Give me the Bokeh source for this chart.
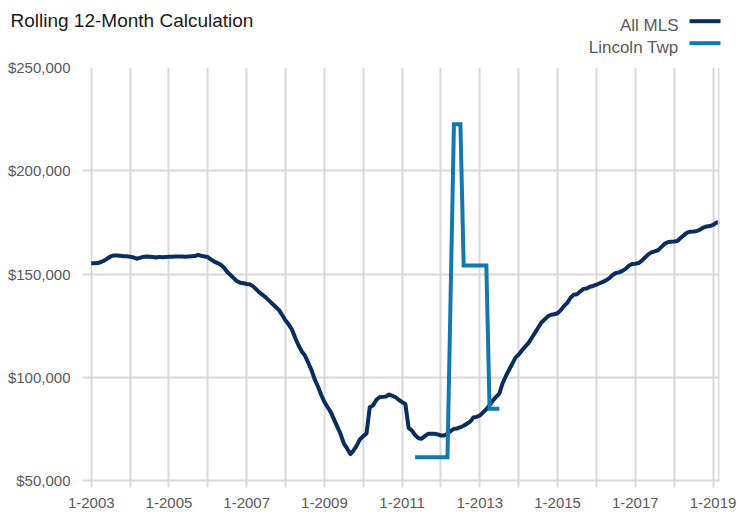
import pandas as pd
from bokeh.plotting import figure
from bokeh.core.properties import value
from bokeh.models import Range1d, FixedTicker, NumeralTickFormatter, Span
from bokeh.embed import file_html
from bokeh.resources import INLINE

# ---------------- data ----------------
all_mls_start = "2003-01"
all_mls = [
    # 2003
    155200, 155200, 155300, 155800, 156500, 157500, 158500, 159000, 159000, 158800, 158600, 158600,
    # 2004
    158400, 158000, 157400, 157800, 158300, 158500, 158400, 158200, 158000, 158300, 158100, 158200,
    # 2005
    158300, 158400, 158500, 158500, 158500, 158400, 158500, 158600, 158700, 159300, 158800, 158500,
    # 2006
    158200, 157000, 156000, 155300, 154500, 153000, 151000, 149500, 148000, 146500, 145800, 145500,
    # 2007
    145200, 145000, 144000, 142500, 141000, 139800, 138500, 137000, 135500, 134000, 132500, 130000,
    # 2008
    127500, 125500, 123000, 119000, 115500, 112500, 110500, 107000, 103500, 99000, 95500, 91500,
    # 2009
    88000, 85500, 83000, 79500, 76000, 72500, 68000, 65500, 62800, 64500, 67000, 70000,
    # 2010
    71500, 72800, 85500, 86300, 89000, 90300, 90500, 90700, 91600, 91000, 90300, 89000,
    # 2011
    87900, 87000, 75500, 74200, 72000, 70500, 70200, 71500, 72600, 72600, 72600, 72300,
    # 2012
    71800, 71800, 72600, 74000, 75000, 75200, 75800, 76500, 77500, 78500, 80500, 80800,
    # 2013
    81500, 83000, 84500, 86500, 88700, 90500, 92000, 97000, 100500, 103500, 106500, 109500,
    # 2014
    111000, 113000, 114800, 116500, 119000, 121500, 124000, 126500, 128000, 129500, 130300, 130500,
    # 2015
    131000, 132500, 134500, 136000, 138500, 140000, 140200, 141500, 142800, 143000, 143800, 144200,
    # 2016
    144800, 145500, 146200, 147000, 148000, 149500, 150500, 150800, 151500, 152500, 154000, 154800,
    # 2017
    155000, 155300, 156500, 158000, 159500, 160500, 161000, 161500, 163000, 164500, 165400, 165600,
    # 2018
    165700, 166000, 167500, 168800, 170000, 170500, 170600, 170800, 171500, 172500, 173000, 173200,
    # 2019
    173800, 174800, 175200,
]

lincoln_months = [
    "2011-05", "2011-06", "2011-07", "2011-08", "2011-09", "2011-10", "2011-11", "2011-12",
    "2012-01", "2012-02", "2012-03",
    "2012-05", "2012-06", "2012-07",
    "2012-08", "2012-09", "2012-10", "2012-11", "2012-12", "2013-01", "2013-02", "2013-03",
    "2013-04", "2013-05", "2013-06", "2013-07",
]
lincoln = [
    61300, 61300, 61300, 61300, 61300, 61300, 61300, 61300,
    61300, 61300, 61300,
    222500, 222500, 222500,
    154100, 154100, 154100, 154100, 154100, 154100, 154100, 154100,
    84700, 84700, 84700, 84700,
]

x_tick_months = ["2003-01", "2004-01", "2005-01", "2006-01", "2007-01", "2008-01", "2009-01",
                 "2010-01", "2011-01", "2012-01", "2013-01", "2014-01", "2015-01", "2016-01",
                 "2017-01", "2018-01", "2019-01"]
x_tick_labels = ["1-2003", "", "1-2005", "", "1-2007", "", "1-2009", "", "1-2011", "",
                 "1-2013", "", "1-2015", "", "1-2017", "", "1-2019"]
y_ticks = [50000, 100000, 150000, 200000, 250000]

title_text = "Rolling 12-Month Calculation"
series_names = ["All MLS", "Lincoln Twp"]
series_colors = ["#0b2d5b", "#1478b0"]

# ---------------- helpers ----------------
base = pd.Period(all_mls_start, freq="M")


def month_index(s):
    return (pd.Period(s, freq="M") - base).n


all_x = list(range(len(all_mls)))
lincoln_x = [month_index(m) for m in lincoln_months]
x_ticks = [month_index(m) for m in x_tick_months]

FONT = "Liberation Sans"
GRID = "#d9d9d9"
TXT = "#595959"

X0, X1 = -2.7, 194
Y0, Y1 = 50000, 250000
FL, FR, FT, FB = 82, 719, 67, 480  # frame edges in canvas px


def px_to_x(px):
    return X0 + (px - FL) * (X1 - X0) / (FR - FL)


def py_to_y(py):
    return Y1 - (py - FT) * (Y1 - Y0) / (FB - FT)


p = figure(
    width=738, height=515,
    x_range=Range1d(X0, X1), y_range=Range1d(Y0, Y1),
    output_backend="svg", toolbar_location=None,
    min_border_left=FL, min_border_right=738 - FR, min_border_top=FT, min_border_bottom=515 - FB,
    background_fill_color="white", border_fill_color="white",
)
p.outline_line_color = None

# x axis
p.xaxis.ticker = FixedTicker(ticks=x_ticks)
p.xaxis.major_label_overrides = {t: lab for t, lab in zip(x_ticks, x_tick_labels)}
p.xaxis.axis_line_color = GRID
p.xaxis.axis_line_width = 2
p.xaxis.major_tick_line_color = GRID
p.xaxis.major_tick_line_width = 2
p.xaxis.major_tick_in = 0
p.xaxis.major_tick_out = 7
p.xaxis.minor_tick_line_color = None
p.xaxis.major_label_standoff = 10
p.xaxis.major_label_text_font = FONT
p.xaxis.major_label_text_font_size = "15px"
p.xaxis.major_label_text_color = TXT

# y axis
p.yaxis.ticker = FixedTicker(ticks=y_ticks)
p.yaxis.formatter = NumeralTickFormatter(format="$0,0")
p.yaxis.axis_line_color = None
p.yaxis.major_tick_line_color = None
p.yaxis.minor_tick_line_color = None
p.yaxis.major_tick_in = 0
p.yaxis.major_tick_out = 0
p.yaxis.major_label_standoff = 12
p.yaxis.major_label_text_font = FONT
p.yaxis.major_label_text_font_size = "15px"
p.yaxis.major_label_text_color = TXT

# grids
p.xgrid.grid_line_color = GRID
p.xgrid.grid_line_width = 2
p.ygrid.grid_line_color = GRID
p.ygrid.grid_line_width = 2

p.add_layout(Span(location=193.8, dimension="height", line_color=GRID, line_width=2))

# series
p.line(all_x, all_mls, line_color=series_colors[0], line_width=4, line_join="round")
p.line(lincoln_x, lincoln, line_color=series_colors[1], line_width=4, line_join="miter")

# title (overlay-level text so it can sit above the frame)
p.text(x=[px_to_x(10)], y=[py_to_y(20)], text=[title_text], text_font=value(FONT),
       text_font_size=value("19px"), text_color="#1a1a1a", text_baseline="alphabetic",
       text_align="left", level="overlay")

# legend: label on the left, line sample on the right
leg_text_py = [25, 46.7]
leg_line_py = [20.7, 42.7]
p.text(x=[px_to_x(678)] * 2, y=[py_to_y(v) for v in leg_text_py], text=series_names,
       text_font=value(FONT), text_font_size=value("17px"), text_color=TXT,
       text_baseline="alphabetic", text_align="right", level="overlay")
p.segment(x0=[px_to_x(689)] * 2, y0=[py_to_y(v) for v in leg_line_py],
          x1=[px_to_x(720)] * 2, y1=[py_to_y(v) for v in leg_line_py],
          line_color=series_colors, line_width=4, level="overlay")

open("out.html", "w").write(file_html(p, INLINE))
